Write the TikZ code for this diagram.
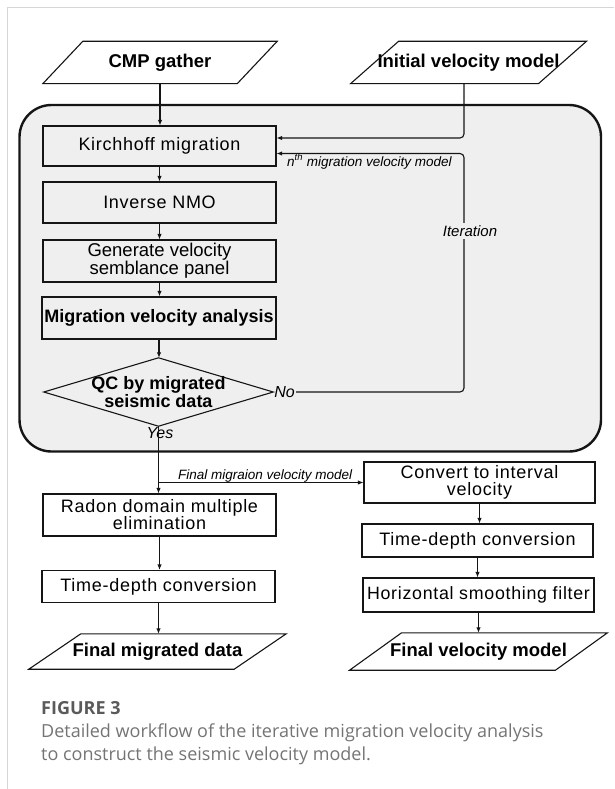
\documentclass[tikz,border=0pt]{standalone}
\usepackage{fontspec}
\setmainfont{Liberation Sans}
\newfontfamily\boxfont[LetterSpace=4]{Liberation Sans}
\newfontfamily\capfont{Open Sans}
\usetikzlibrary{arrows.meta,calc}
\definecolor{bggray}{HTML}{EFEFEF}
\definecolor{framegray}{HTML}{D6D6D6}
\definecolor{capdark}{HTML}{5A5A5A}
\definecolor{capgray}{HTML}{747474}
\definecolor{ink}{HTML}{151515}
\begin{document}
\begin{tikzpicture}[x=1pt,y=-1pt,
  line/.style={draw=ink, line width=1.1pt},
  arr/.style={draw=ink, line width=1.1pt, -{Latex[length=5.5pt,width=4.5pt]}},
  pbox/.style={draw=ink, line width=1.1pt, minimum width=233pt, minimum height=40pt,
    inner sep=0pt, align=center, font=\boxfont\fontsize{18}{17}\selectfont},
  bbox/.style={pbox, font=\bfseries\fontsize{18}{18}\selectfont},
  para/.style={inner sep=0pt, align=center, font=\bfseries\fontsize{18.5}{18}\selectfont},
  smalllab/.style={inner sep=0pt, font=\itshape\fontsize{13.5}{14}\selectfont},
  caplab/.style={anchor=base west, inner sep=0pt}
]
\useasboundingbox (0,0) rectangle (614,789);
\draw[framegray, line width=1pt] (7,789) -- (7,7.5) -- (614,7.5);

% loop container
\node[draw=ink, line width=2.4pt, fill=bggray, rounded corners=32pt,
  minimum width=581.5pt, minimum height=346.5pt, inner sep=0pt] (loop) at (310.25,278.25) {};

% input / output parallelograms
\node[para, minimum width=194pt, minimum height=42pt] (cmp) at (160,62.5) {CMP gather};
\node[para, minimum width=187.5pt, minimum height=42pt] (ivm) at (468.5,62.5) {Initial velocity model};
\node[para, minimum width=205pt, minimum height=35pt] (fmd) at (157.5,651.5) {Final migrated data};
\node[para, minimum width=205.5pt, minimum height=37pt] (fvm) at (478.5,651.5) {Final velocity model};
\foreach \n/\s in {cmp/20,ivm/24,fmd/26,fvm/26}
  \draw[line] ($(\n.north west)+(\s,0)$) -- ($(\n.north east)+(\s,0)$)
    -- ($(\n.south east)+(-\s,0)$) -- ($(\n.south west)+(-\s,0)$) -- cycle;

% loop boxes
\node[pbox] (kirch) at (159.5,146) {Kirchhoff migration};
\node[pbox, minimum height=41pt] (nmo) at (159.5,202.5) {Inverse NMO};
\node[pbox, minimum height=42pt, font=\fontsize{18.5}{17}\selectfont] (gen) at (159.5,261) {Generate velocity\\semblance panel};
\node[bbox, minimum width=234pt, minimum height=42pt, line width=1.3pt] (mva) at (159,318) {Migration velocity analysis};
\node[inner sep=0pt, minimum width=229pt, minimum height=68pt, align=center,
  font=\bfseries\fontsize{18}{18}\selectfont] (qc) at (158.5,392) {QC by migrated\\seismic data};
\draw[line] (qc.north) -- (qc.east) -- (qc.south) -- (qc.west) -- cycle;

% lower boxes
\node[pbox, minimum height=42pt] (radon) at (159.5,515) {Radon domain multiple\\elimination};
\node[pbox, minimum height=32pt] (tdl) at (158.5,586.5) {Time-depth conversion};
\node[pbox, minimum width=231pt, minimum height=41pt] (conv) at (479.5,482.5) {Convert to interval\\velocity};
\node[pbox, minimum width=231pt, minimum height=33pt] (tdr) at (477.5,540.5) {Time-depth conversion};
\node[pbox, minimum width=231pt, minimum height=34pt, font=\boxfont\fontsize{17.8}{17}\selectfont] (hsf) at (478.5,595) {Horizontal smoothing filter};

% labels
\coordinate (ix) at (464,0);
\node[anchor=west, inner sep=1pt, font=\itshape\fontsize{16}{16}\selectfont] (no) at (qc.east) {No};
\node[inner sep=0pt, font=\itshape\fontsize{16}{16}\selectfont] (yes) at (160,433) {Yes};

% connectors
\draw[arr] (cmp.south) -- (cmp.south |- kirch.north);
\draw[arr] (kirch.south) -- (kirch.south |- nmo.north);
\draw[arr] (nmo.south) -- (nmo.south |- gen.north);
\draw[arr] (gen.south) -- (gen.south |- mva.north);
\draw[arr] (mva.south) -- (mva.south |- qc.north);
\draw[arr, rounded corners=4pt] (ivm.south -| ix) |- ([yshift=8pt]kirch.east);
\draw[arr, rounded corners=4pt] (no.east) -| ([yshift=-7.5pt]kirch.east -| ix) -- ([yshift=-7.5pt]kirch.east);
\node[fill=bggray, inner sep=2pt, font=\itshape\fontsize{15}{15}\selectfont] (iter) at (470,231) {Iteration};
\node[smalllab, anchor=west] (nth) at (287,161.5) {n\textsuperscript{th} migration velocity model};

\draw[arr] (qc.south) -- (qc.south |- radon.north);
\draw[arr] (qc.south |- conv.west) -- node[pos=0.52, above, inner sep=2.5pt, smalllab] (fmv) {Final migraion velocity model} (conv.west);
\draw[arr] (radon.south) -- (radon.south |- tdl.north);
\draw[arr] (tdl.south) -- (tdl.south |- fmd.north);
\draw[arr] (conv.south) -- (conv.south |- tdr.north);
\draw[arr] (tdr.south) -- (tdr.south |- hsf.north);
\draw[arr] (hsf.south) -- (hsf.south |- fvm.north);

% caption
\node[caplab, text=capdark, font=\capfont\bfseries\fontsize{18}{18}\selectfont] (figno) at (41,714) {FIGURE 3};
\node[caplab, text=capgray, font=\capfont\fontsize{18}{18}\selectfont] (cap1) at (41,737) {Detailed workflow of the iterative migration velocity analysis};
\node[caplab, text=capgray, font=\capfont\fontsize{18}{18}\selectfont] (cap2) at (41,760) {to construct the seismic velocity model.};
\end{tikzpicture}
\end{document}
